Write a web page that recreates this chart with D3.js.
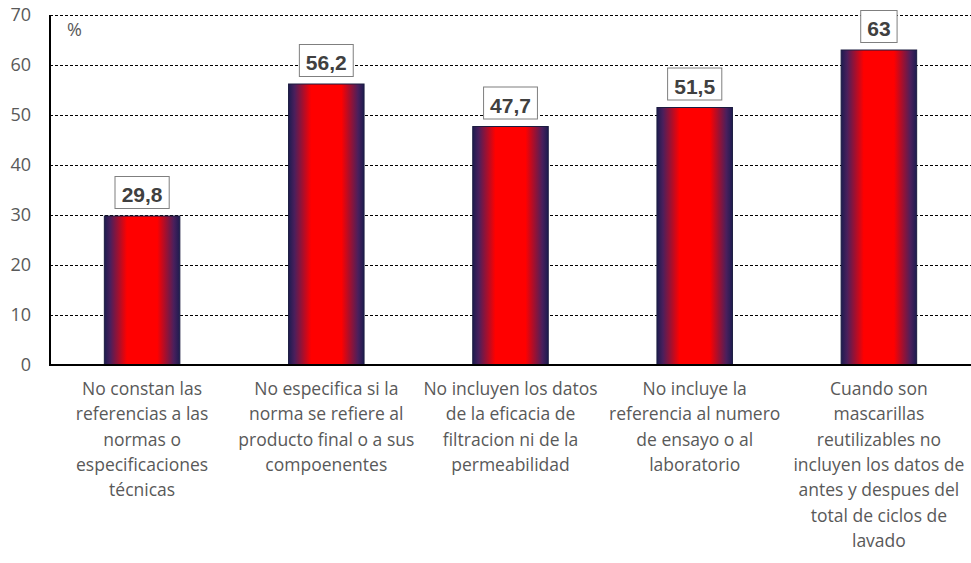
<!DOCTYPE html>
<html><head><meta charset="utf-8">
<script src="https://cdn.jsdelivr.net/npm/d3@7"></script>
<style>body{margin:0;background:#fff}</style>
</head><body>
<svg id="c" width="971" height="563"></svg>
<script>
const categories = [
  ["No constan las","referencias a las","normas o","especificaciones","técnicas"],
  ["No especifica si la","norma se refiere al","producto final o a sus","compoenentes"],
  ["No incluyen los datos","de la eficacia de","filtracion ni de la","permeabilidad"],
  ["No incluye la","referencia al numero","de ensayo o al","laboratorio"],
  ["Cuando son","mascarillas","reutilizables no","incluyen los datos de","antes y despues del","total de ciclos de","lavado"]
];
const values = [29.8, 56.2, 47.7, 51.5, 63];
const valueLabels = ["29,8","56,2","47,7","51,5","63"];
const yTicks = [0,10,20,30,40,50,60,70];

const svg = d3.select("#c");
const m = {left:50, right:971, top:15, bottom:365};
const x = d3.scaleBand().domain(d3.range(values.length)).range([m.left, m.right]).paddingInner(0.59).paddingOuter(0.295);
const y = d3.scaleLinear().domain([0,70]).range([m.bottom, m.top]);
const FONT = "'Open Sans', Lato, sans-serif";

const defs = svg.append("defs");
const g = defs.append("linearGradient").attr("id","bg").attr("x1","0%").attr("x2","100%").attr("y1","0").attr("y2","0");
[[0,"#1c1c50"],[0.08,"#4a1f5c"],[0.3,"#ff0000"],[0.7,"#ff0000"],[0.92,"#4a1f5c"],[1,"#1c1c50"]].forEach(s=>g.append("stop").attr("offset",s[0]).attr("stop-color",s[1]));

// gridlines
svg.append("g").selectAll("line").data(yTicks.filter(d=>d>0)).join("line")
  .attr("x1",m.left).attr("x2",m.right).attr("y1",d=>y(d)+0.5).attr("y2",d=>y(d)+0.5)
  .attr("stroke","#000").attr("stroke-width",1).attr("stroke-dasharray","3,2");

// y axis
const ya = svg.append("g").attr("transform",`translate(${m.left},0)`).call(d3.axisLeft(y).tickValues(yTicks).tickSize(0).tickPadding(19));
ya.select(".domain").remove();
ya.selectAll("text").attr("font-family",FONT).attr("font-size",18).attr("fill","#595959");

// bars
svg.append("g").selectAll("rect").data(values).join("rect")
  .attr("x",(d,i)=>x(i)).attr("width",x.bandwidth())
  .attr("y",d=>y(d)).attr("height",d=>y(0)-y(d))
  .attr("fill","url(#bg)").attr("stroke","#1c1c40").attr("stroke-width",1);

// axes lines
svg.append("line").attr("x1",m.left).attr("x2",m.left).attr("y1",m.top).attr("y2",m.bottom+1).attr("stroke","#000").attr("stroke-width",2);
svg.append("line").attr("x1",m.left-1).attr("x2",m.right).attr("y1",m.bottom).attr("y2",m.bottom).attr("stroke","#000").attr("stroke-width",2);

// % label
svg.append("text").attr("x",67).attr("y",36).text("%").attr("font-family",FONT).attr("font-size",18).attr("fill","#595959");

// value labels
const lg = svg.append("g").selectAll("g").data(values).join("g");
lg.each(function(d,i){
  const cx = x(i)+x.bandwidth()/2;
  const t = d3.select(this).append("text").attr("x",cx).attr("y",y(d)-14).attr("text-anchor","middle")
    .attr("font-family","'Liberation Sans', Arial, sans-serif").attr("font-weight","bold").attr("font-size",21).attr("fill","#404040").text(valueLabels[i]);
  const bb = t.node().getBBox();
  d3.select(this).insert("rect","text").attr("x",cx-bb.width/2-6.5).attr("width",bb.width+13)
    .attr("y",y(d)-39.5).attr("height",32).attr("fill","#fff").attr("stroke","#7f7f7f").attr("stroke-width",1);
});

// category labels
svg.append("g").selectAll("text").data(categories).join("text")
  .attr("text-anchor","middle").attr("font-family",FONT).attr("font-size",17.5).attr("fill","#595959")
  .each(function(lines,i){
    const cx = x(i)+x.bandwidth()/2;
    d3.select(this).selectAll("tspan").data(lines).join("tspan").attr("x",cx).attr("y",(l,j)=>395+j*25.3).text(l=>l);
  });
</script>
</body></html>
